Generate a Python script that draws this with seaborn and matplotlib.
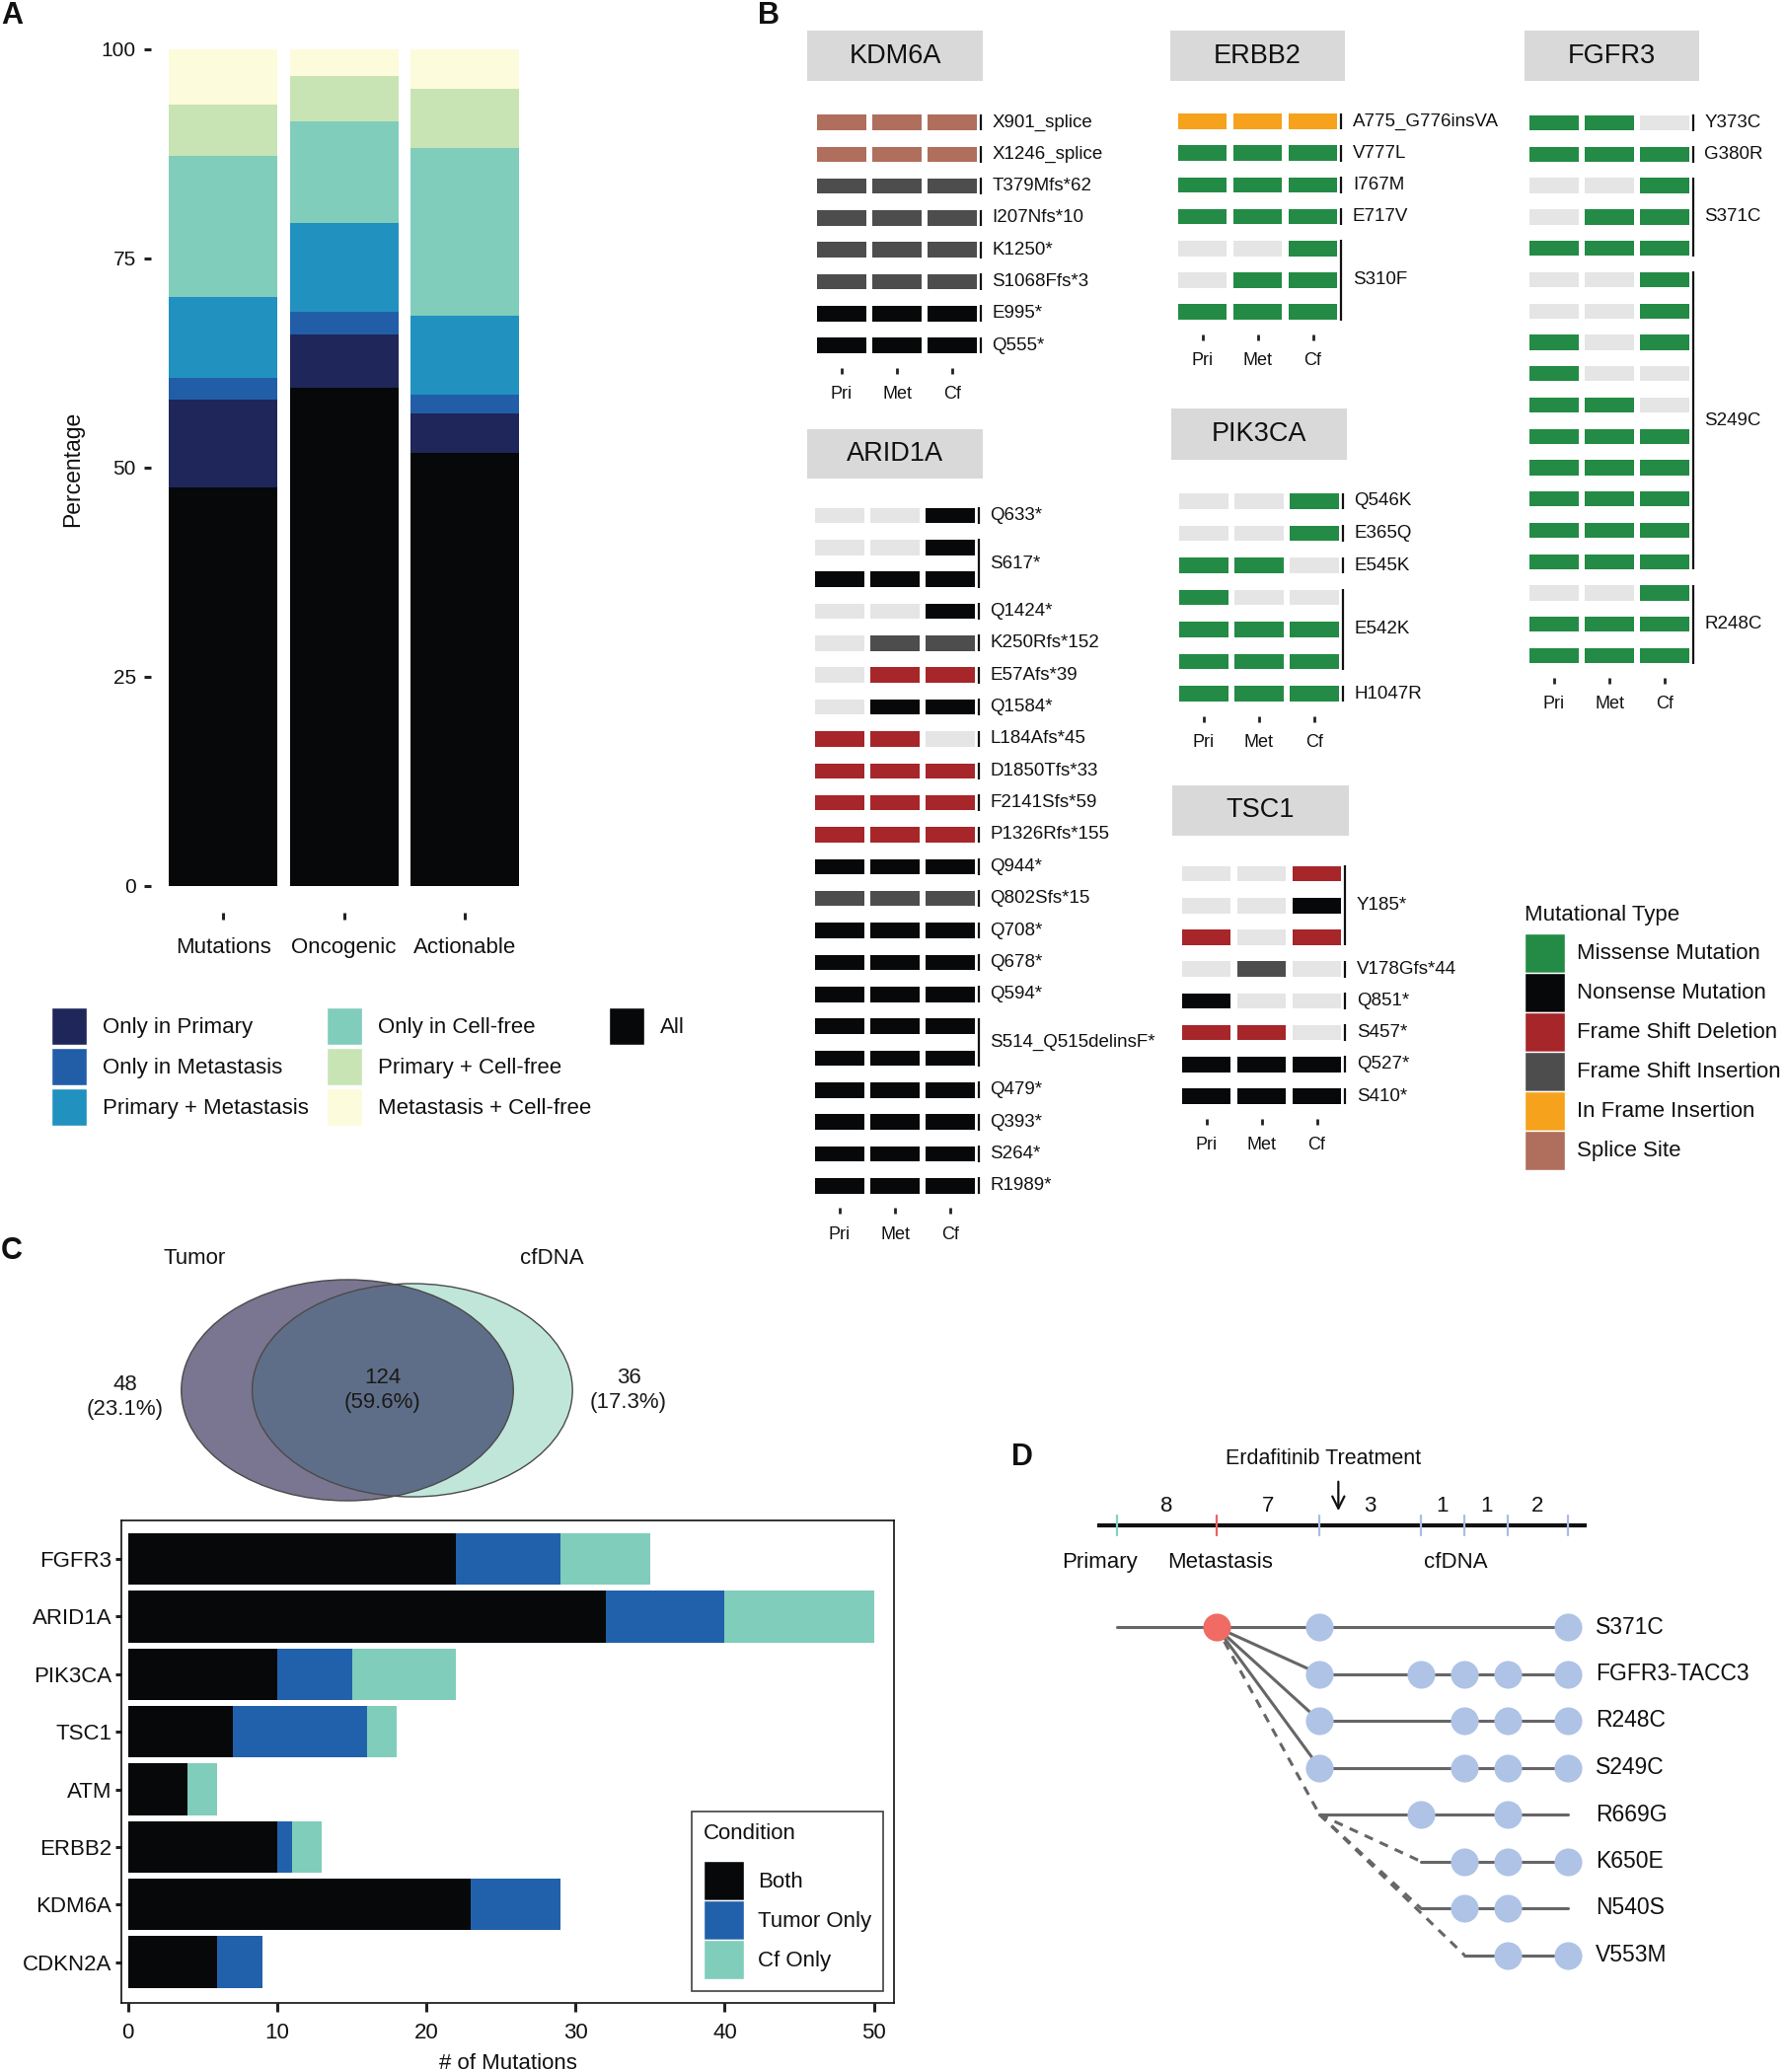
import numpy as np
import pandas as pd
import matplotlib
matplotlib.use("Agg")
import matplotlib.pyplot as plt
from matplotlib.patches import Patch, Rectangle, Circle
import seaborn as sns

W, H = 1810, 2100

# ---------------- panel A: share of mutations by sample set ----------------
A_CATS = ["Mutations", "Oncogenic", "Actionable"]
A_GROUPS = ["All", "Only in Primary", "Only in Metastasis", "Primary + Metastasis",
            "Only in Cell-free", "Primary + Cell-free", "Metastasis + Cell-free"]
A_ALL = [47.6, 59.5, 51.7]
A_ONLY_PRI = [10.5, 6.4, 4.7]
A_ONLY_MET = [2.6, 2.7, 2.3]
A_PRI_MET = [9.6, 10.6, 9.4]
A_ONLY_CF = [16.9, 12.2, 20.1]
A_PRI_CF = [6.2, 5.4, 7.0]
A_MET_CF = [6.6, 3.2, 4.8]
A_COLORS = ["#070809", "#1f2659", "#225ea8", "#2191c0", "#80cdbb", "#c8e4b4", "#fcfbdb"]

# ---------------- panel B: per-gene mutation calls (Pri, Met, Cf) ----------------
MUT_CODES = ["M", "N", "D", "I", "F", "S"]
MUT_TYPES = ["Missense Mutation", "Nonsense Mutation", "Frame Shift Deletion",
             "Frame Shift Insertion", "In Frame Insertion", "Splice Site"]
MUT_COLORS = {"M": "#238b45", "N": "#070809", "D": "#a6262a", "I": "#4d4d4d",
              "F": "#f6a21c", "S": "#b06e5c", "-": "#e5e5e5"}
SAMPLES = ["Pri", "Met", "Cf"]

KDM6A_MUT = ["X901_splice", "X1246_splice", "T379Mfs*62", "I207Nfs*10", "K1250*",
             "S1068Ffs*3", "E995*", "Q555*"]
KDM6A_CALLS = ["SSS", "SSS", "III", "III", "III", "III", "NNN", "NNN"]

ARID1A_MUT = ["Q633*", "S617*", "S617*", "Q1424*", "K250Rfs*152", "E57Afs*39", "Q1584*",
              "L184Afs*45", "D1850Tfs*33", "F2141Sfs*59", "P1326Rfs*155", "Q944*",
              "Q802Sfs*15", "Q708*", "Q678*", "Q594*", "S514_Q515delinsF*",
              "S514_Q515delinsF*", "Q479*", "Q393*", "S264*", "R1989*"]
ARID1A_CALLS = ["--N", "--N", "NNN", "--N", "-II", "-DD", "-NN", "DD-", "DDD", "DDD", "DDD",
                "NNN", "III", "NNN", "NNN", "NNN", "NNN", "NNN", "NNN", "NNN", "NNN", "NNN"]

ERBB2_MUT = ["A775_G776insVA", "V777L", "I767M", "E717V", "S310F", "S310F", "S310F"]
ERBB2_CALLS = ["FFF", "MMM", "MMM", "MMM", "--M", "-MM", "MMM"]

PIK3CA_MUT = ["Q546K", "E365Q", "E545K", "E542K", "E542K", "E542K", "H1047R"]
PIK3CA_CALLS = ["--M", "--M", "MM-", "M--", "MMM", "MMM", "MMM"]

TSC1_MUT = ["Y185*", "Y185*", "Y185*", "V178Gfs*44", "Q851*", "S457*", "Q527*", "S410*"]
TSC1_CALLS = ["--D", "--N", "D-D", "-I-", "N--", "DD-", "NNN", "NNN"]

FGFR3_MUT = ["Y373C", "G380R", "S371C", "S371C", "S371C",
             "S249C", "S249C", "S249C", "S249C", "S249C", "S249C", "S249C", "S249C", "S249C", "S249C",
             "R248C", "R248C", "R248C"]
FGFR3_CALLS = ["MM-", "MMM", "--M", "-MM", "MMM",
               "--M", "--M", "M-M", "M--", "MM-", "MMM", "MMM", "MMM", "MMM", "MMM",
               "--M", "MMM", "MMM"]

# ---------------- panel C: tumor vs cfDNA ----------------
VENN_TUMOR_ONLY = 48
VENN_BOTH = 124
VENN_CF_ONLY = 36
C_GENES = ["FGFR3", "ARID1A", "PIK3CA", "TSC1", "ATM", "ERBB2", "KDM6A", "CDKN2A"]
C_BOTH = [22, 32, 10, 7, 4, 10, 23, 6]
C_TUMOR = [7, 8, 5, 9, 0, 1, 6, 3]
C_CF = [6, 10, 7, 2, 2, 2, 0, 0]
C_CONDITIONS = ["Both", "Tumor Only", "Cf Only"]
C_COLORS = ["#070809", "#2161ab", "#80cdbb"]

# ---------------- panel D: FGFR3 clonal timeline ----------------
SAMPLE_TYPE = ["Primary", "Metastasis", "cfDNA", "cfDNA", "cfDNA", "cfDNA", "cfDNA"]
SAMPLE_POS = [0.0, 1.0, 2.04, 3.06, 3.50, 3.94, 4.54]   # schematic spacing, not to scale
GAP_MONTHS = [8, 7, 3, 1, 1, 2]
TREATMENT_POS = 2.23
D_MUTS = ["S371C", "FGFR3-TACC3", "R248C", "S249C", "R669G", "K650E", "N540S", "V553M"]
D_START = [0, 2, 2, 2, 2, 3, 3, 4]
D_PARENT = [-1, 0, 0, 0, 0, 4, 4, 4]
D_DASHED = [False, False, False, False, True, True, True, True]
D_DETECTED = [[2, 6], [2, 3, 4, 5, 6], [2, 4, 5, 6], [2, 4, 5, 6], [3, 5], [4, 5, 6], [4, 5], [5, 6]]
TICK_COLORS = {"Primary": "#84cfc4", "Metastasis": "#e8645c", "cfDNA": "#a9bde2"}


def px_axes(fig, x0, y0, x1, y1):
    return fig.add_axes([x0 / W, 1 - y1 / H, (x1 - x0) / W, (y1 - y0) / H])


def hide_spines(ax):
    for s in ax.spines.values():
        s.set_visible(False)


def key_height(px, fontsize_pt=16):
    # legend patch height in font units -> handleheight that matplotlib expects
    return (px / (fontsize_pt / 0.72) - 0.245) / 0.65


def plot_panel_a(fig):
    ax = px_axes(fig, 153, 49.6, 544.4, 924.7)
    layers = [A_ALL, A_ONLY_PRI, A_ONLY_MET, A_PRI_MET, A_ONLY_CF, A_PRI_CF, A_MET_CF]
    cum = np.cumsum(np.array(layers), axis=0)
    for i in reversed(range(len(layers))):
        sns.barplot(x=A_CATS, y=cum[i], color=A_COLORS[i], width=0.9, saturation=1,
                    linewidth=0, errorbar=None, ax=ax)
    ax.set_xlim(-0.6, 2.6)
    ax.set_ylim(-3.2, 100)
    ax.set_yticks([0, 25, 50, 75, 100])
    ax.set_xlabel("")
    ax.set_ylabel("")
    hide_spines(ax)
    ax.tick_params(axis="both", length=5, width=2.2, color="#222222", labelsize=15,
                   bottom=True, left=True)
    ax.tick_params(axis="x", labelsize=16, pad=13.5)
    ax.tick_params(axis="y", pad=6)
    fig.text(74 / W, 1 - 475 / H, "Percentage", rotation=90, ha="center", va="center", fontsize=16.5)

    handles = [Patch(facecolor=c, edgecolor="white", linewidth=1) for c in A_COLORS]
    labels = list(A_GROUPS)
    order = [1, 2, 3, 4, 5, 6, 0]
    hs = [handles[i] for i in order] + [Patch(visible=False), Patch(visible=False)]
    ls = [labels[i] for i in order] + ["", ""]
    fig.legend(hs, ls, ncol=3, loc="upper left", bbox_to_anchor=(52 / W, 1 - 1021 / H),
               frameon=False, fontsize=16, handlelength=1.62, handleheight=key_height(38),
               labelspacing=0.14, handletextpad=0.73, columnspacing=0.8,
               borderpad=0, borderaxespad=0)


def plot_gene(fig, name, muts, calls, c0, y0, sp, header):
    n = len(muts)
    colw = 56
    ax = px_axes(fig, c0 - 0.6 * colw, y0 - 0.7 * sp, c0 + 2.6 * colw, y0 + (n - 1 + 0.7) * sp)
    ax.set_xlim(-0.6, 2.6)
    ax.set_ylim(n - 1 + 0.7, -0.7)
    xs, ys, cs = [], [], []
    for i, call in enumerate(calls):
        for j, code in enumerate(call):
            xs.append(j)
            ys.append(i)
            cs.append(MUT_COLORS[code])
    ax.bar(xs, 0.48, bottom=np.array(ys) - 0.24, width=0.89, color=cs, linewidth=0)

    # brackets + labels for runs of identical mutation names
    start = 0
    for i in range(1, n + 1):
        if i == n or muts[i] != muts[start]:
            end = i - 1
            ax.plot([2.51, 2.51], [start - 0.26, end + 0.26], color="#111111", lw=1.6,
                    clip_on=False, solid_capstyle="butt")
            ax.text(2.72, (start + end) / 2, muts[start], ha="left", va="center",
                    fontsize=13.5, clip_on=False)
            start = i

    ax.set_xticks([0, 1, 2], SAMPLES)
    ax.set_yticks([])
    hide_spines(ax)
    ax.tick_params(axis="x", length=4.5, width=2, color="#222222", pad=8.5, labelsize=13, bottom=True)

    hx0, hx1, hy0, hy1 = header
    fig.add_artist(Rectangle((hx0 / W, 1 - hy1 / H), (hx1 - hx0) / W, (hy1 - hy0) / H,
                             transform=fig.transFigure, facecolor="#d9d9d9", edgecolor="none"))
    fig.text((hx0 + hx1) / 2 / W, 1 - (hy0 + hy1) / 2 / H, name, ha="center", va="center",
             fontsize=19.5)


def plot_panel_b(fig):
    plot_gene(fig, "KDM6A", KDM6A_MUT, KDM6A_CALLS, 853, 124, 32.3, (818, 996, 31, 82))
    plot_gene(fig, "ARID1A", ARID1A_MUT, ARID1A_CALLS, 851, 522.5, 32.35, (818, 996, 435, 485))
    plot_gene(fig, "ERBB2", ERBB2_MUT, ERBB2_CALLS, 1218.5, 123, 32.2, (1186, 1363, 31, 82))
    plot_gene(fig, "PIK3CA", PIK3CA_MUT, PIK3CA_CALLS, 1220, 508, 32.5, (1187, 1365, 414, 466))
    plot_gene(fig, "TSC1", TSC1_MUT, TSC1_CALLS, 1222.5, 885.6, 32.2, (1188, 1367, 796, 847))
    plot_gene(fig, "FGFR3", FGFR3_MUT, FGFR3_CALLS, 1575, 124.6, 31.76, (1545, 1722, 31, 82))

    handles = [Patch(facecolor=MUT_COLORS[k], edgecolor="white", linewidth=1) for k in MUT_CODES]
    leg = fig.legend(handles, MUT_TYPES, loc="upper left", bbox_to_anchor=(1545 / W, 1 - 917 / H),
                     frameon=False, title="Mutational Type", fontsize=16, title_fontsize=16,
                     handlelength=1.85, handleheight=key_height(40), labelspacing=0.0,
                     handletextpad=0.55, borderpad=0, borderaxespad=0, alignment="left")
    leg._legend_box.sep = 5.5


def lens_area(d, r1, r2):
    a1 = np.arccos((d * d + r1 * r1 - r2 * r2) / (2 * d * r1))
    a2 = np.arccos((d * d + r2 * r2 - r1 * r1) / (2 * d * r2))
    k = np.sqrt((-d + r1 + r2) * (d + r1 - r2) * (d - r1 + r2) * (d + r1 + r2))
    return r1 * r1 * a1 + r2 * r2 * a2 - 0.5 * k


def plot_venn(fig):
    r_t = np.sqrt((VENN_TUMOR_ONLY + VENN_BOTH) / np.pi)
    r_c = np.sqrt((VENN_CF_ONLY + VENN_BOTH) / np.pi)
    lo, hi = abs(r_t - r_c) + 1e-6, r_t + r_c - 1e-6
    for _ in range(60):
        mid = (lo + hi) / 2
        if lens_area(mid, r_t, r_c) > VENN_BOTH:
            lo = mid
        else:
            hi = mid
    d = (lo + hi) / 2

    sx, sy = 22.74, 15.14
    cx, cy = 352, 1409
    x0, x1, y0, y1 = 40, 760, 1255, 1545
    ax = px_axes(fig, x0, y0, x1, y1)
    ax.set_xlim((x0 - cx) / sx, (x1 - cx) / sx)
    ax.set_ylim((cy - y1) / sy, (cy - y0) / sy)
    ax.axis("off")

    tumor = Circle((0, 0), r_t, facecolor="#7a7590", edgecolor="none")
    cf = Circle((d, 0), r_c, facecolor="#c0e6da", edgecolor="none")
    both = Circle((d, 0), r_c, facecolor="#5f6e88", edgecolor="none")
    ax.add_patch(tumor)
    ax.add_patch(cf)
    ax.add_patch(both)
    both.set_clip_path(tumor)
    ax.add_patch(Circle((0, 0), r_t, fill=False, edgecolor="#4a4a4a", lw=1))
    ax.add_patch(Circle((d, 0), r_c, fill=False, edgecolor="#4a4a4a", lw=1))

    total = VENN_TUMOR_ONLY + VENN_BOTH + VENN_CF_ONLY
    def lab(n):
        return f"{n}\n({100 * n / total:.1f}%)"
    kw = dict(ha="center", va="center", fontsize=16, linespacing=1.25, color="#1a1a1a")
    ax.text(-r_t - 2.5, -0.45, lab(VENN_TUMOR_ONLY), **kw)
    ax.text((d - r_c + r_t) / 2, 0, lab(VENN_BOTH), **kw)
    ax.text(d + r_c + 2.5, 0, lab(VENN_CF_ONLY), **kw)
    ax.text(-6.8, 8.85, "Tumor", ha="center", va="center", fontsize=16)
    ax.text(d + 6.2, 8.85, "cfDNA", ha="center", va="center", fontsize=16)


def plot_panel_c(fig):
    plot_venn(fig)
    ax = px_axes(fig, 123, 1541, 906, 2030)
    layers = [C_BOTH, C_TUMOR, C_CF]
    cum = np.cumsum(np.array(layers), axis=0)
    for i in reversed(range(len(layers))):
        sns.barplot(x=cum[i], y=C_GENES, orient="h", color=C_COLORS[i], width=0.9,
                    saturation=1, linewidth=0, errorbar=None, ax=ax)
    ax.set_xlim(-0.45, 51.35)
    ax.set_ylim(7.71, -0.67)
    ax.set_xticks([0, 10, 20, 30, 40, 50])
    ax.set_ylabel("")
    ax.set_xlabel("# of Mutations", fontsize=16, labelpad=7)
    for s in ax.spines.values():
        s.set_visible(True)
        s.set_color("#111111")
        s.set_linewidth(1.2)
    ax.tick_params(axis="both", width=2.2, color="#222222", labelsize=16,
                   bottom=True, left=True)
    ax.tick_params(axis="x", length=6.5, pad=8)
    ax.tick_params(axis="y", length=4, pad=3)
    handles = [Patch(facecolor=c, edgecolor="white", linewidth=1) for c in C_COLORS]
    leg = ax.legend(handles, C_CONDITIONS, loc="lower right",
                    bbox_to_anchor=(1 - 11 / 783, 12 / 489), title="Condition", fontsize=16,
                    title_fontsize=16, handlelength=1.85, handleheight=key_height(40),
                    labelspacing=0.0, handletextpad=0.6, borderpad=0.55, borderaxespad=0,
                    alignment="left", fancybox=False, frameon=True)
    leg._legend_box.sep = 12
    leg.get_frame().set_edgecolor("#111111")
    leg.get_frame().set_linewidth(1.2)


def plot_panel_d(fig):
    ux, uy = 100.6, 47.5
    ox, oy = 1132, 1649
    x0, x1, y0, y1 = 1030, 1810, 1460, 2010
    ax = px_axes(fig, x0, y0, x1, y1)
    ax.set_xlim((x0 - ox) / ux, (x1 - ox) / ux)
    ax.set_ylim((y1 - oy) / uy, (y0 - oy) / uy)
    ax.axis("off")

    ty = -2.168
    ax.plot([SAMPLE_POS[0] - 0.2, SAMPLE_POS[-1] + 0.19], [ty, ty], color="#111111", lw=3,
            solid_capstyle="butt", zorder=2)
    for p, t in zip(SAMPLE_POS, SAMPLE_TYPE):
        ax.plot([p, p], [ty - 0.21, ty + 0.21], color=TICK_COLORS[t], lw=1.6, zorder=3)
    for i, g in enumerate(GAP_MONTHS):
        ax.text((SAMPLE_POS[i] + SAMPLE_POS[i + 1]) / 2, -2.57, str(g), ha="center",
                va="center", fontsize=16)
    cf_pos = [p for p, t in zip(SAMPLE_POS, SAMPLE_TYPE) if t == "cfDNA"]
    ax.text(SAMPLE_POS[0] - 0.17, -1.37, "Primary", ha="center", va="center", fontsize=16)
    ax.text(SAMPLE_POS[1] + 0.04, -1.37, "Metastasis", ha="center", va="center", fontsize=16)
    ax.text(np.mean(cf_pos), -1.37, "cfDNA", ha="center", va="center", fontsize=16)
    ax.text(2.08, -3.58, "Erdafitinib Treatment", ha="center", va="center", fontsize=15.5)
    ax.annotate("", xy=(TREATMENT_POS, -2.42), xytext=(TREATMENT_POS, -3.16),
                arrowprops=dict(arrowstyle="->", lw=1.6, color="#111111", mutation_scale=22))

    line_kw = dict(color="#666666", lw=2.2, zorder=1)
    for r, m in enumerate(D_MUTS):
        sx = SAMPLE_POS[D_START[r]]
        ax.plot([sx, SAMPLE_POS[-1]], [r, r], **line_kw)
        par = D_PARENT[r]
        if par >= 0:
            if par == 0:
                px, py = SAMPLE_POS[1], 0
            else:
                px, py = SAMPLE_POS[D_START[par]], par
            ls = (0, (3, 2.5)) if D_DASHED[r] else "-"
            ax.plot([px, sx], [py, r], linestyle=ls, **line_kw)
        pts = [SAMPLE_POS[k] for k in D_DETECTED[r]]
        ax.scatter(pts, [r] * len(pts), s=410, color="#aec3e6", linewidth=0, zorder=4)
        ax.text((1617 - ox) / ux, r, m, ha="left", va="center", fontsize=16.5)
    ax.scatter([SAMPLE_POS[1]], [0], s=410, color="#ef6b64", linewidth=0, zorder=5)


def main():
    sns.set_theme(style="ticks")
    plt.rcParams["font.family"] = ["Liberation Sans", "DejaVu Sans"]
    plt.rcParams["text.color"] = "#111111"
    plt.rcParams["xtick.color"] = "#111111"
    plt.rcParams["ytick.color"] = "#111111"
    plt.rcParams["axes.labelcolor"] = "#111111"

    fig = plt.figure(figsize=(W / 100, H / 100), dpi=100)
    plot_panel_a(fig)
    plot_panel_b(fig)
    plot_panel_c(fig)
    plot_panel_d(fig)

    letter_kw = dict(fontsize=22, fontweight="bold", va="top", ha="left")
    fig.text(1 / W, 1 - 1 / H, "A", **letter_kw)
    fig.text(768 / W, 1 - 1 / H, "B", **letter_kw)
    fig.text(1 / W, 1 - 1253 / H, "C", **letter_kw)
    fig.text(1025 / W, 1 - 1462 / H, "D", **letter_kw)

    fig.savefig("out.png", dpi=100)


if __name__ == "__main__":
    main()
